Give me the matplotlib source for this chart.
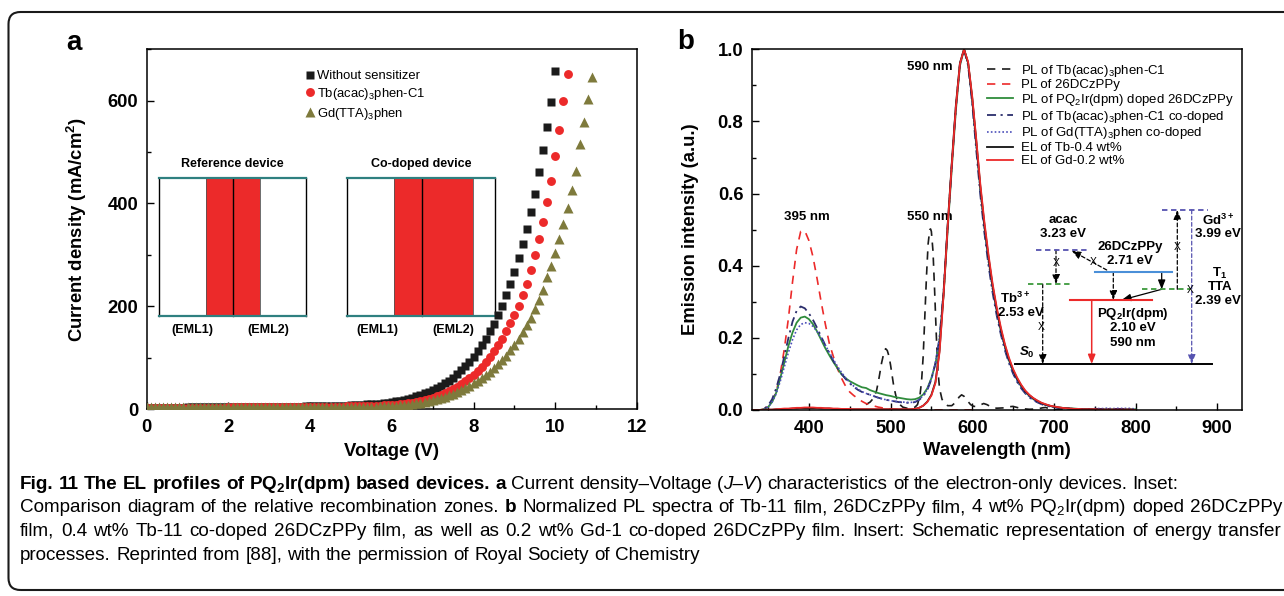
import matplotlib
matplotlib.use('Agg')
import numpy as np
import matplotlib.pyplot as plt
from matplotlib.lines import Line2D
from matplotlib.patches import Rectangle, FancyBboxPatch, FancyArrowPatch
from matplotlib.ticker import MultipleLocator
import matplotlib.transforms as mtransforms

# ---------------- panel a data: J-V ----------------
volt_black = np.round(np.arange(0, 101) * 0.1, 1)
J_black = [2.0, 2.1, 2.2, 2.3, 2.4, 2.5, 2.6, 2.7, 2.8, 2.9,
           3.0, 3.0, 3.1, 3.1, 3.2, 3.2, 3.3, 3.3, 3.4, 3.4,
           3.5, 3.5, 3.6, 3.6, 3.7, 3.7, 3.8, 3.8, 3.9, 3.9,
           4.0, 4.1, 4.2, 4.3, 4.4, 4.5, 4.6, 4.7, 4.8, 4.9,
           5.0, 5.1, 5.3, 5.4, 5.6, 5.8, 6.0, 6.2, 6.5, 6.8,
           7.1, 7.5, 7.9, 8.3, 8.8, 9.3, 9.9, 10.6, 11.4, 12.3,
           13.4, 14.7, 16.2, 17.9, 19.9, 22.1, 24.6, 27.3, 30.2, 33.4,
           37, 41, 45, 50, 55, 61, 68, 75, 83, 91,
           101, 112, 124, 137, 151, 166, 183, 201, 222, 244,
           267, 293, 321, 351, 383, 419, 461, 504, 548, 598,
           658]
volt_red = np.round(np.arange(0, 104) * 0.1, 1)
J_red = [1.5, 1.6, 1.7, 1.8, 1.9, 2.0, 2.1, 2.2, 2.3, 2.4,
         2.5, 2.5, 2.6, 2.6, 2.7, 2.7, 2.8, 2.8, 2.9, 2.9,
         3.0, 3.0, 3.1, 3.1, 3.2, 3.2, 3.3, 3.3, 3.4, 3.4,
         3.5, 3.5, 3.6, 3.6, 3.7, 3.7, 3.8, 3.8, 3.9, 3.9,
         4.0, 4.1, 4.2, 4.3, 4.4, 4.5, 4.6, 4.7, 4.8, 4.9,
         5.0, 5.2, 5.4, 5.6, 5.8, 6.0, 6.3, 6.6, 7.0, 7.4,
         7.9, 8.5, 9.2, 10.0, 11.0, 12.2, 13.6, 15.2, 17.0, 19.2,
         22, 25, 28, 31, 35, 39, 43, 48, 54, 60,
         67, 74, 82, 91, 101, 112, 124, 137, 151, 167,
         183, 201, 222, 244, 271, 300, 331, 364, 402, 443,
         493, 543, 600, 652]
volt_green = np.round(np.arange(0, 110) * 0.1, 1)
J_green = [3.0, 3.0, 3.0, 3.0, 3.0, 3.0, 3.0, 3.0, 3.0, 3.0,
           3.0, 3.0, 3.0, 3.1, 3.1, 3.1, 3.1, 3.2, 3.2, 3.2,
           3.2, 3.3, 3.3, 3.3, 3.3, 3.4, 3.4, 3.4, 3.4, 3.5,
           3.5, 3.5, 3.5, 3.6, 3.6, 3.6, 3.6, 3.7, 3.7, 3.7,
           3.7, 3.8, 3.8, 3.8, 3.9, 3.9, 3.9, 4.0, 4.0, 4.1,
           4.1, 4.2, 4.3, 4.4, 4.5, 4.6, 4.8, 5.0, 5.2, 5.5,
           5.8, 6.3, 7.0, 7.8, 8.7, 9.7, 10.9, 12.2, 13.7, 15.3,
           17, 19, 21.5, 24, 27, 30, 33.5, 37.5, 41.5, 45.5,
           50, 55, 60, 66, 72, 79, 87, 95, 104, 114,
           125, 136, 150, 164, 178, 194, 213, 232, 256, 279,
           303, 331, 360, 391, 426, 463, 515, 559, 603, 647]
labels_a = ['Without sensitizer', r'Tb(acac)$_\mathrm{3}$phen-C1', r'Gd(TTA)$_\mathrm{3}$phen']

# ---------------- panel b data: spectra ----------------
wl = np.arange(330, 805, 5)
pl_doped = [0.0, 0.0, 0.0, 0.002, 0.008, 0.022, 0.048, 0.088, 0.133, 0.178,
            0.215, 0.242, 0.256, 0.259, 0.252, 0.238, 0.218, 0.195, 0.172, 0.152,
            0.133, 0.116, 0.099, 0.088, 0.080, 0.074, 0.068, 0.063, 0.061, 0.055,
            0.051, 0.047, 0.044, 0.041, 0.039, 0.036, 0.034, 0.032, 0.030, 0.029,
            0.030, 0.034, 0.043, 0.060, 0.088, 0.128, 0.195, 0.32, 0.50, 0.67,
            0.83, 0.955, 1.0, 0.962, 0.862, 0.737, 0.612, 0.506, 0.416, 0.34,
            0.276, 0.221, 0.176, 0.138, 0.108, 0.084, 0.065, 0.05, 0.039, 0.03,
            0.023, 0.018, 0.014, 0.011, 0.009, 0.007, 0.006, 0.005, 0.004, 0.004,
            0.003, 0.003, 0.003, 0.003, 0.002, 0.002, 0.002, 0.002, 0.002, 0.002,
            0.002, 0.002, 0.002, 0.002, 0.002]
el_gd = [0.0, 0.0, 0.0, 0.0, 0.001, 0.001, 0.002, 0.003, 0.004, 0.004,
         0.005, 0.006, 0.006, 0.007, 0.007, 0.007, 0.006, 0.006, 0.005, 0.005,
         0.004, 0.004, 0.003, 0.003, 0.003, 0.002, 0.002, 0.002, 0.002, 0.002,
         0.002, 0.002, 0.002, 0.002, 0.002, 0.002, 0.002, 0.002, 0.002, 0.002,
         0.003, 0.006, 0.012, 0.022, 0.04, 0.075, 0.16, 0.32, 0.51, 0.68,
         0.84, 0.96, 1.0, 0.965, 0.87, 0.75, 0.625, 0.52, 0.43, 0.35,
         0.285, 0.23, 0.183, 0.145, 0.114, 0.09, 0.07, 0.054, 0.042, 0.033,
         0.026, 0.02, 0.016, 0.012, 0.01, 0.008, 0.006, 0.005, 0.004, 0.003,
         0.003, 0.002, 0.002, 0.002, 0.002, 0.001, 0.001, 0.001, 0.001, 0.001,
         0.001, 0.001, 0.001, 0.001, 0.0]
el_tb = [0.0, 0.0, 0.0, 0.0, 0.001, 0.001, 0.002, 0.002, 0.003, 0.003,
         0.004, 0.004, 0.005, 0.005, 0.005, 0.005, 0.005, 0.004, 0.004, 0.004,
         0.003, 0.003, 0.003, 0.002, 0.002, 0.002, 0.002, 0.002, 0.002, 0.002,
         0.002, 0.002, 0.002, 0.002, 0.002, 0.002, 0.002, 0.002, 0.002, 0.002,
         0.003, 0.006, 0.012, 0.023, 0.042, 0.078, 0.165, 0.325, 0.515, 0.685,
         0.845, 0.962, 1.0, 0.962, 0.865, 0.745, 0.618, 0.513, 0.423, 0.344,
         0.279, 0.225, 0.179, 0.141, 0.111, 0.087, 0.068, 0.052, 0.041, 0.032,
         0.025, 0.019, 0.015, 0.012, 0.009, 0.007, 0.006, 0.005, 0.004, 0.003,
         0.003, 0.002, 0.002, 0.002, 0.002, 0.001, 0.001, 0.001, 0.001, 0.001,
         0.001, 0.001, 0.001, 0.001, 0.0]
pl_tb_codoped = [0.0, 0.0, 0.0, 0.003, 0.012, 0.03, 0.06, 0.1, 0.15, 0.2,
                 0.245, 0.275, 0.287, 0.282, 0.268, 0.25, 0.228, 0.204, 0.18, 0.157,
                 0.136, 0.117, 0.1, 0.086, 0.074, 0.064, 0.056, 0.05, 0.046, 0.042,
                 0.038, 0.034, 0.031, 0.028, 0.026, 0.024, 0.022, 0.021, 0.02, 0.02,
                 0.022, 0.028, 0.038, 0.055, 0.085, 0.13, 0.2, 0.33, 0.51, 0.68,
                 0.84, 0.96, 1.0, 0.955, 0.85, 0.72, 0.595, 0.49, 0.4, 0.325,
                 0.262, 0.21, 0.166, 0.13, 0.101, 0.078, 0.06, 0.046, 0.035, 0.027,
                 0.021, 0.016, 0.012, 0.01, 0.008, 0.006, 0.005, 0.004, 0.004, 0.003,
                 0.003, 0.003, 0.003, 0.003, 0.003, 0.003, 0.003, 0.003, 0.003, 0.003,
                 0.003, 0.003, 0.002, 0.002, 0.002]
pl_gd_codoped = [0.0, 0.0, 0.0, 0.002, 0.008, 0.022, 0.045, 0.08, 0.12, 0.16,
                 0.195, 0.222, 0.237, 0.242, 0.24, 0.232, 0.218, 0.2, 0.18, 0.16,
                 0.14, 0.121, 0.104, 0.089, 0.077, 0.066, 0.058, 0.051, 0.046, 0.042,
                 0.038, 0.034, 0.031, 0.028, 0.026, 0.024, 0.023, 0.022, 0.021, 0.021,
                 0.023, 0.029, 0.04, 0.057, 0.087, 0.13, 0.2, 0.33, 0.505, 0.675,
                 0.835, 0.955, 1.0, 0.96, 0.855, 0.73, 0.605, 0.5, 0.41, 0.333,
                 0.27, 0.216, 0.171, 0.134, 0.104, 0.08, 0.062, 0.048, 0.037, 0.028,
                 0.022, 0.017, 0.013, 0.01, 0.008, 0.006, 0.005, 0.004, 0.004, 0.003,
                 0.003, 0.003, 0.003, 0.003, 0.004, 0.004, 0.004, 0.005, 0.004, 0.004,
                 0.005, 0.004, 0.005, 0.004, 0.003]
wl_host = np.arange(340, 605, 5)
pl_host = [0.0, 0.003, 0.01, 0.025, 0.05, 0.1, 0.17, 0.255, 0.355, 0.445,
           0.495, 0.497, 0.47, 0.425, 0.365, 0.3, 0.24, 0.185, 0.148, 0.115,
           0.088, 0.066, 0.05, 0.04, 0.032, 0.024, 0.018, 0.014, 0.011, 0.008,
           0.006, 0.004, 0.003, 0.002, 0.001, 0.0, 0.0, 0.0, 0.0, 0.0,
           0.0, 0.0, 0.0, 0.0, 0.0, 0.0, 0.0, 0.0, 0.0, 0.0,
           0.0, 0.0, 0.0]
wl_tb = [470, 475, 480, 483, 486, 489, 492, 494, 496, 498, 500, 502, 504, 507, 510,
         515, 520, 525, 530, 533, 536, 538, 540, 542, 544, 546, 548, 549, 550, 552,
         554, 556, 558, 560, 563, 566, 570, 575, 580, 584, 587, 590, 594, 598, 602,
         606, 610, 614, 618, 622, 626, 630, 640, 645, 650, 655, 660, 670, 680, 686,
         690, 695, 700, 720, 750, 800]
pl_tb = [0.015, 0.022, 0.035, 0.055, 0.09, 0.13, 0.16, 0.17, 0.165, 0.15, 0.125, 0.095, 0.065, 0.035, 0.018,
         0.008, 0.005, 0.005, 0.008, 0.015, 0.04, 0.08, 0.15, 0.26, 0.37, 0.46, 0.5, 0.502, 0.495, 0.44,
         0.33, 0.21, 0.11, 0.06, 0.03, 0.018, 0.012, 0.012, 0.022, 0.036, 0.042, 0.038, 0.026, 0.015, 0.01,
         0.01, 0.014, 0.018, 0.015, 0.01, 0.006, 0.005, 0.006, 0.009, 0.01, 0.007, 0.004, 0.002, 0.003, 0.006,
         0.007, 0.003, 0.001, 0.0, 0.0, 0.0]
labels_b = [r'PL of Tb(acac)$_\mathrm{3}$phen-C1', 'PL of 26DCzPPy',
            r'PL of PQ$_\mathrm{2}$Ir(dpm) doped 26DCzPPy',
            r'PL of Tb(acac)$_\mathrm{3}$phen-C1 co-doped',
            r'PL of Gd(TTA)$_\mathrm{3}$phen co-doped',
            'EL of Tb-0.4 wt%', 'EL of Gd-0.2 wt%']

# ---------------- style ----------------
W, H = 1284, 596
plt.rcParams['font.family'] = ['Liberation Sans', 'DejaVu Sans']
plt.rcParams['mathtext.fontset'] = 'custom'
plt.rcParams['mathtext.rm'] = 'Liberation Sans'
plt.rcParams['mathtext.bf'] = 'Liberation Sans:bold'
plt.rcParams['mathtext.it'] = 'Liberation Sans:italic:bold'
plt.rcParams['mathtext.sf'] = 'Liberation Sans'

C_BLACK = '#1b1b1b'
C_RED = '#ec2a2a'
C_OLIVE = '#7e7a3c'
C_GREEN = '#2f8c3c'
C_NAVY = '#2b2e6c'
C_BLUE = '#4c4fba'
C_TEAL = '#2f8080'
C_PURP = '#5653b0'
C_LGREEN = '#3d9a3d'
C_LBLUE = '#4a8fd8'

fig = plt.figure(figsize=(W / 100, H / 100), dpi=100)
PX = mtransforms.Affine2D().scale(1 / W, -1 / H).translate(0, 1) + fig.transFigure


def ax_rect(l, t, r, b):
    return [l / W, 1 - b / H, (r - l) / W, (b - t) / H]


axa = fig.add_axes(ax_rect(146.7, 49.3, 637.0, 409.0))
axb = fig.add_axes(ax_rect(751.7, 49.3, 1241.7, 410.0))

TICK_FS = 13.3
for ax in (axa, axb):
    ax.tick_params(which='both', direction='in', top=False, right=False, width=1.0, color='black')
    ax.tick_params(which='major', length=5)
    ax.tick_params(which='minor', length=3)
    ax.tick_params(axis='x', pad=7)
    ax.tick_params(axis='y', pad=6)
    for s in ax.spines.values():
        s.set_linewidth(1.1)

# ---------------- panel a ----------------
axa.plot(volt_black, J_black, ls='none', marker='s', ms=5.3, mfc=C_BLACK, mec='none', label=labels_a[0], zorder=3)
axa.plot(volt_red, J_red, ls='none', marker='o', ms=6.4, mfc=C_RED, mec='none', label=labels_a[1], zorder=3)
axa.plot(volt_green, J_green, ls='none', marker='^', ms=7.0, mfc=C_OLIVE, mec='none', label=labels_a[2], zorder=3)
axa.set_xlim(0, 12)
axa.set_ylim(0, 700)
axa.set_xticks([0, 2, 4, 6, 8, 10, 12], labels=['0', '2', '4', '6', '8', '10', '12'],
               fontsize=TICK_FS, fontweight='bold')
axa.set_yticks([0, 200, 400, 600], labels=['0', '200', '400', '600'], fontsize=TICK_FS, fontweight='bold')
axa.xaxis.set_minor_locator(MultipleLocator(1))
axa.yaxis.set_minor_locator(MultipleLocator(100))
axa.set_xlabel('Voltage (V)', fontsize=TICK_FS, fontweight='bold')
axa.set_ylabel(r'Current density (mA/cm$^\mathbf{2}$)', fontsize=TICK_FS, fontweight='bold')
axa.xaxis.set_label_coords(0.5, -0.094)
axa.yaxis.set_label_coords(-0.118, 0.5)
axa.legend(loc='upper left', bbox_to_anchor=(0.3225, 0.9425), frameon=False, fontsize=9.4,
           handlelength=0.8, handletextpad=0.15, labelspacing=0.3, borderpad=0, borderaxespad=0,
           numpoints=1)

# inset device diagrams (pixel layout)
def px_line(ax, xs, ys, **kw):
    ax.add_line(Line2D(xs, ys, transform=PX, clip_on=False, **kw))


def device(ax, l, r, rl, rr, div, title, cx, e1, e2):
    t, b = 178, 316
    ax.add_patch(Rectangle((l, t), r - l, b - t, transform=PX, facecolor='white', edgecolor='none',
                           clip_on=False, zorder=1))
    ax.add_patch(Rectangle((rl, t), rr - rl, b - t, transform=PX, facecolor=C_RED, edgecolor='none',
                           clip_on=False, zorder=1.1))
    px_line(ax, [rl, rl], [t, b], color='#555555', lw=0.6, zorder=1.2)
    px_line(ax, [rr, rr], [t, b], color='#555555', lw=0.6, zorder=1.2)
    px_line(ax, [div, div], [t, b], color='black', lw=1.0, zorder=1.2)
    px_line(ax, [l, l], [t, b], color='black', lw=1.0, zorder=1.3)
    px_line(ax, [r, r], [t, b], color='black', lw=1.0, zorder=1.3)
    px_line(ax, [l, r], [t, t], color=C_TEAL, lw=1.6, zorder=1.4)
    px_line(ax, [l, r], [b, b], color=C_TEAL, lw=1.6, zorder=1.4)
    ax.text(cx, 164, title, transform=PX, ha='center', va='center', fontsize=9, fontweight='bold')
    ax.text(e1, 330.5, '(EML1)', transform=PX, ha='center', va='center', fontsize=9, fontweight='bold')
    ax.text(e2, 330.5, '(EML2)', transform=PX, ha='center', va='center', fontsize=9, fontweight='bold')


device(axa, 159, 306, 206, 260, 233, 'Reference device', 232.5, 192, 268)
device(axa, 347, 495, 394, 473, 422, 'Co-doped device', 421, 377, 453)

# ---------------- panel b ----------------
axb.plot(wl_tb, pl_tb, color=C_BLACK, lw=1.2, dashes=(5, 4), label=labels_b[0])
axb.plot(wl_host, pl_host, color=C_RED, lw=1.2, dashes=(5, 4), label=labels_b[1])
axb.plot(wl, pl_doped, color=C_GREEN, lw=1.3, label=labels_b[2])
axb.plot(wl, pl_tb_codoped, color=C_NAVY, lw=1.3, dashes=(5, 2.5, 1.2, 2.5), label=labels_b[3])
axb.plot(wl, pl_gd_codoped, color=C_BLUE, lw=1.2, dashes=(1, 1.3), label=labels_b[4])
axb.plot(wl, el_tb, color='#111111', lw=1.3, label=labels_b[5])
axb.plot(wl, el_gd, color=C_RED, lw=1.3, label=labels_b[6])
axb.set_xlim(330, 930)
axb.set_ylim(0, 1.0)
axb.set_xticks([400, 500, 600, 700, 800, 900], labels=['400', '500', '600', '700', '800', '900'],
               fontsize=TICK_FS, fontweight='bold')
axb.set_yticks([0, 0.2, 0.4, 0.6, 0.8, 1.0], labels=['0.0', '0.2', '0.4', '0.6', '0.8', '1.0'],
               fontsize=TICK_FS, fontweight='bold')
axb.xaxis.set_minor_locator(MultipleLocator(50))
axb.yaxis.set_minor_locator(MultipleLocator(0.1))
axb.set_xlabel('Wavelength (nm)', fontsize=TICK_FS, fontweight='bold')
axb.set_ylabel('Emission intensity (a.u.)', fontsize=TICK_FS, fontweight='bold')
axb.xaxis.set_label_coords(0.5, -0.088)
axb.yaxis.set_label_coords(-0.107, 0.5)
axb.legend(loc='upper left', bbox_to_anchor=(0.480, 0.9634), frameon=False, fontsize=9.5,
           handlelength=2.0, handletextpad=0.55, labelspacing=0.05, borderpad=0, borderaxespad=0)

for (x, y, s) in [(547.5, 0.952, '590 nm'), (397.6, 0.536, '395 nm'), (547.5, 0.536, '550 nm')]:
    axb.text(x, y, s, ha='center', va='center', fontsize=9.5, fontweight='bold', zorder=1)

# energy-level scheme (pixel layout)
def lvl(x1, x2, y, color, dashed=False, lw=1.3):
    fig.add_artist(Line2D([x1, x2], [y, y], transform=PX, color=color, lw=lw,
                          ls=(0, (3, 2)) if dashed else '-'))


def arr(p1, p2, color='black', dashed=True, lw=0.9):
    fig.add_artist(FancyArrowPatch(p1, p2, transform=PX, arrowstyle='-|>,head_length=0.5,head_width=0.2',
                                   mutation_scale=11, lw=lw, color=color,
                                   linestyle=(0, (3, 2)) if dashed else '-', shrinkA=0, shrinkB=0))


def lab(x, y, s, fs=9.5, **kw):
    fig.text(x, y, s, transform=PX, ha='center', va='center', fontsize=fs, fontweight='bold', **kw)


def xmark(x, y):
    fig.text(x, y, 'X', transform=PX, ha='center', va='center', fontsize=7.5)


lvl(1015, 1212.3, 364, 'black', lw=1.4)
lvl(1036, 1089.3, 250, C_PURP, dashed=True)
lvl(1028, 1073, 284, C_LGREEN, dashed=True)
lvl(1095, 1172.3, 271.7, C_LBLUE, lw=1.5)
lvl(1070, 1151.7, 300, C_RED, lw=1.5)
lvl(1142.3, 1190, 289.3, C_LGREEN, dashed=True)
lvl(1161.7, 1208.3, 210, C_PURP, dashed=True)

arr((1056, 250), (1056, 284))
arr((1042.7, 284), (1042.7, 364))
arr((1106.7, 270), (1071.7, 250.7))
arr((1113.3, 272), (1113.3, 300))
arr((1161.7, 272), (1161.7, 289.3), dashed=False)
arr((1161.7, 289.3), (1121.7, 300), dashed=False)
arr((1177.3, 289.3), (1177.3, 210))
arr((1091.7, 300), (1091.7, 364), color=C_RED, dashed=False, lw=1.1)
arr((1191.7, 210), (1191.7, 364), color=C_PURP)

for (x, y) in [(1056, 262.7), (1041.7, 326.7), (1093.3, 261.7), (1177.3, 246.7), (1190, 290)]:
    xmark(x, y)

lab(1063.3, 220, 'acac')
lab(1063.3, 234.3, '3.23 eV')
lab(1130, 247.3, '26DCzPPy')
lab(1130, 261, '2.71 eV')
lab(1218.3, 220, r'Gd$^\mathbf{3+}$')
lab(1218.3, 234, '3.99 eV')
lab(1220, 273.3, r'T$_\mathbf{1}$')
lab(1220, 286.7, 'TTA')
lab(1218, 301, '2.39 eV')
lab(1015, 298.3, r'Tb$^\mathbf{3+}$')
lab(1021, 313.3, '2.53 eV')
lab(1133.3, 314, r'PQ$_\mathbf{2}$Ir(dpm)')
lab(1133.3, 328.3, '2.10 eV')
lab(1133.3, 343.3, '590 nm')
lab(1026.7, 352.7, r'$\mathit{S}_\mathbf{0}$')

# panel letters
fig.text(74, 43, 'a', transform=PX, ha='center', va='center', fontsize=20, fontweight='bold')
fig.text(686, 42, 'b', transform=PX, ha='center', va='center', fontsize=20, fontweight='bold')

# outer rounded frame (display pixels)
frame = FancyBboxPatch((8.5, 6), 1300, 578, boxstyle='round,pad=0,rounding_size=12',
                       transform=mtransforms.IdentityTransform(), facecolor='none',
                       edgecolor='#1a1a1a', lw=1.5)
fig.add_artist(frame)

# ---------------- caption ----------------
cap_lines = [
    [(r'Fig. 11 The EL profiles of PQ$_\mathbf{2}$Ir(dpm) based devices. a', 'b'),
     (' Current density–Voltage (', 'r'), ('J–V', 'i'),
     (') characteristics of the electron-only devices. Inset:', 'r')],
    [('Comparison diagram of the relative recombination zones. ', 'r'), ('b', 'b'),
     (r' Normalized PL spectra of Tb-11 film, 26DCzPPy film, 4 wt% PQ$_\mathrm{2}$Ir(dpm) doped 26DCzPPy', 'r')],
    [('film, 0.4 wt% Tb-11 co-doped 26DCzPPy film, as well as 0.2 wt% Gd-1 co-doped 26DCzPPy film. '
      'Insert: Schematic representation of energy transfer', 'r')],
    [('processes. Reprinted from [88], with the permission of Royal Society of Chemistry', 'r')],
]
cap_baselines = [489, 512.5, 536, 559.5]
cap_justify = [False, True, True, False]
CAP_X0, CAP_X1 = 20, 1282
STY = {'b': dict(fontweight='bold'), 'r': dict(), 'i': dict(fontstyle='italic')}

renderer = fig.canvas.get_renderer()


def tw(s, size, st):
    t = fig.text(0, 0, s, fontsize=size, **STY[st])
    w = t.get_window_extent(renderer).width
    t.remove()
    return w


def tokenize(segs):
    words, cur = [], []
    for text, st in segs:
        parts = text.split(' ')
        for i, p in enumerate(parts):
            if i > 0 and cur:
                words.append(cur)
                cur = []
            if p:
                cur.append((p, st))
    if cur:
        words.append(cur)
    return words


tok = [tokenize(l) for l in cap_lines]


def line_widths(words, size):
    return [sum(tw(p, size, st) for p, st in w) for w in words]


def space_w(size):
    return tw('a a', size, 'r') - tw('aa', size, 'r')


s0 = 12.0
nat = sum(line_widths(tok[1], s0)) + space_w(s0) * (len(tok[1]) - 1)
cap_fs = s0 * (CAP_X1 - CAP_X0) / nat
sp = space_w(cap_fs)
for words, yb, just in zip(tok, cap_baselines, cap_justify):
    ws = line_widths(words, cap_fs)
    gap = sp
    if just and len(words) > 1:
        gap = (CAP_X1 - CAP_X0 - sum(ws)) / (len(words) - 1)
    x = CAP_X0
    for w, wd in zip(words, ws):
        xx = x
        for p, st in w:
            fig.text(xx, yb, p, transform=PX, ha='left', va='baseline', fontsize=cap_fs, **STY[st])
            xx += tw(p, cap_fs, st)
        x += wd + gap

fig.savefig('out.png', dpi=100)
